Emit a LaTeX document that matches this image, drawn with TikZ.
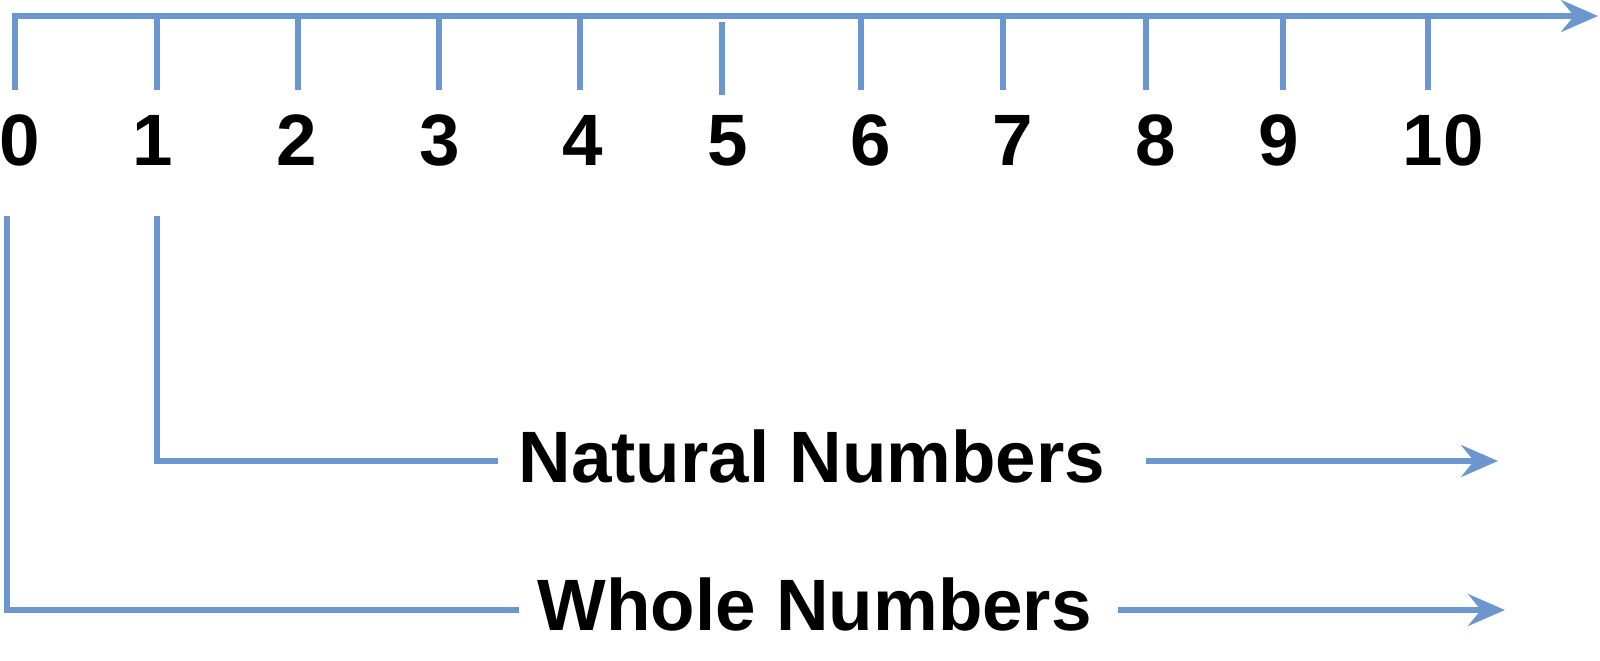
\documentclass[tikz,border=0pt]{standalone}
\usepackage{fontspec}
\setmainfont{Liberation Sans}
\usetikzlibrary{arrows.meta}
\definecolor{numblue}{RGB}{108,151,206}

\begin{document}
\begin{tikzpicture}[x=0.01cm,y=-0.01cm,
    line/.style={draw=numblue,line width=1.5pt},
    arrowline/.style={line,-{Stealth[length=0.37cm,width=0.32cm,inset=0.13cm]}},
    digit/.style={font=\bfseries\fontsize{20.7}{24}\selectfont,inner sep=0,anchor=base},
    word/.style={font=\bfseries\fontsize{20.7}{24}\selectfont,inner sep=0,anchor=base west}
    ]
    \useasboundingbox (0,0) rectangle (1600,660);
    % number line
    \coordinate (tick0) at (15,90);
    \coordinate (axis tip) at (1598,16);
    \draw[arrowline] (tick0) |- (axis tip);
    \foreach \i/\x/\top/\bot in {1/157/16/90,2/298/16/90,3/439/16/90,4/580/16/90,5/722/22/95,
        6/861/16/90,7/1003/16/90,8/1146/16/90,9/1283/16/90,10/1428/16/90}
      \draw[line] (\x,\top) -- (\x,\bot);
    \foreach \i/\x in {0/20,1/153,2/297,3/440,4/583,5/728,6/871,7/1013,8/1156,9/1279,10/1443}
      \node[digit] (d\i) at (\x,165) {\i};
    % labels
    \node[word] (natural) at (518,482) {Natural Numbers};
    \node[word] (whole) at (537,630) {Whole Numbers};
    % brackets
    \coordinate (nat top) at (157,216);
    \coordinate (nat end) at (498,461);
    \coordinate (nat start) at (1146,461);
    \coordinate (nat tip) at (1498,461);
    \draw[line] (nat top) |- (nat end);
    \draw[arrowline] (nat start) -- (nat tip);
    \coordinate (whole top) at (7,216);
    \coordinate (whole end) at (519,610);
    \coordinate (whole start) at (1118,610);
    \coordinate (whole tip) at (1505,610);
    \draw[line] (whole top) |- (whole end);
    \draw[arrowline] (whole start) -- (whole tip);
\end{tikzpicture}
\end{document}
